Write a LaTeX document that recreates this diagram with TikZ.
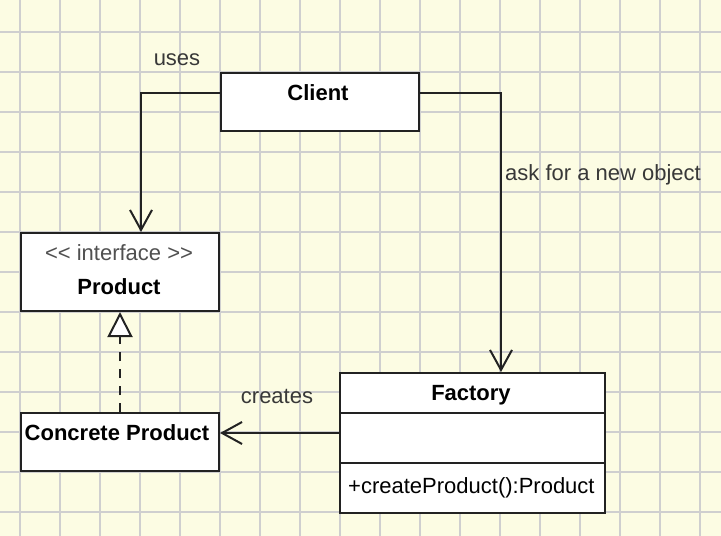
\documentclass[tikz,border=0pt]{standalone}
\usepackage{fontspec}
\setmainfont{Liberation Sans}
\usetikzlibrary{arrows.meta}
\definecolor{bg}{HTML}{FCFCE3}
\definecolor{gridc}{HTML}{CFCFCF}
\definecolor{ink}{HTML}{222222}
\definecolor{lbl}{HTML}{383838}
\definecolor{stereo}{HTML}{505050}
\tikzset{
  gridline/.style={draw=gridc, line width=1.5pt},
  umlbox/.style={draw=ink, fill=white, line width=2pt, inner sep=0pt, anchor=north west},
  boldtxt/.style={font=\fontsize{22}{26}\selectfont\bfseries, text=black, anchor=base, inner sep=0pt},
  regtxt/.style={font=\fontsize{22}{26}\selectfont, text=lbl, anchor=base, inner sep=0pt},
  conn/.style={draw=ink, line width=2pt},
  openarrow/.style={-{Straight Barb[length=20pt,width=22pt,line width=2pt]}},
  realize/.style={draw=ink, line width=2pt, dash pattern=on 9pt off 8pt,
    -{Triangle[open, length=25pt, width=25pt, fill=white, line width=2pt]}},
}
\begin{document}
\begin{tikzpicture}[x=1pt,y=-1pt]
\fill[bg] (0,0) rectangle (721,536);
\useasboundingbox (0,0) rectangle (721,536);
\foreach \x in {20,60,...,700} \draw[gridline] (\x,0) -- (\x,536);
\foreach \y in {32,72,...,512} \draw[gridline] (0,\y) -- (721,\y);

% boxes
\node[umlbox, minimum width=198pt, minimum height=58pt] (client) at (220,72) {};
\node[umlbox, minimum width=198pt, minimum height=78pt] (product) at (20,232) {};
\node[umlbox, minimum width=198pt, minimum height=58pt] (concrete) at (20,412) {};
\node[umlbox, minimum width=265pt, minimum height=40pt] (factoryname) at (339,372) {};
\node[umlbox, minimum width=265pt, minimum height=50pt] (factoryattr) at (339,412) {};
\node[umlbox, minimum width=265pt, minimum height=50pt] (factoryops) at (339,462) {};

% texts
\node[boldtxt] (clienttxt) at (318,100.7) {Client};
\node[regtxt, text=stereo] (stereotxt) at (119,260.5) {<{}< interface >{}>};
\node[boldtxt] (producttxt) at (119,294) {Product};
\node[boldtxt] (concretetxt) at (117,440) {Concrete Product};
\node[boldtxt] (factorytxt) at (471,400.7) {Factory};
\node[regtxt, text=black, anchor=base west] (optxt) at (348,493) {+createProduct():Product};

% connectors
\draw[conn, openarrow] ([yshift=9pt]client.west) -| ([xshift=21pt]product.north);
\draw[conn, openarrow] ([yshift=9pt]client.east) -| ([xshift=28.5pt]factoryname.north);
\draw[conn, openarrow] ([yshift=5pt]factoryattr.west) -- ([yshift=9pt]concrete.east);
\draw[realize] (concrete.north) -- (product.south);

% connector labels
\node[regtxt] (useslbl) at (177,65) {uses};
\node[regtxt, anchor=base west] (asklbl) at (505,180) {ask for a new object};
\node[regtxt] (createslbl) at (277,403) {creates};
\end{tikzpicture}
\end{document}
